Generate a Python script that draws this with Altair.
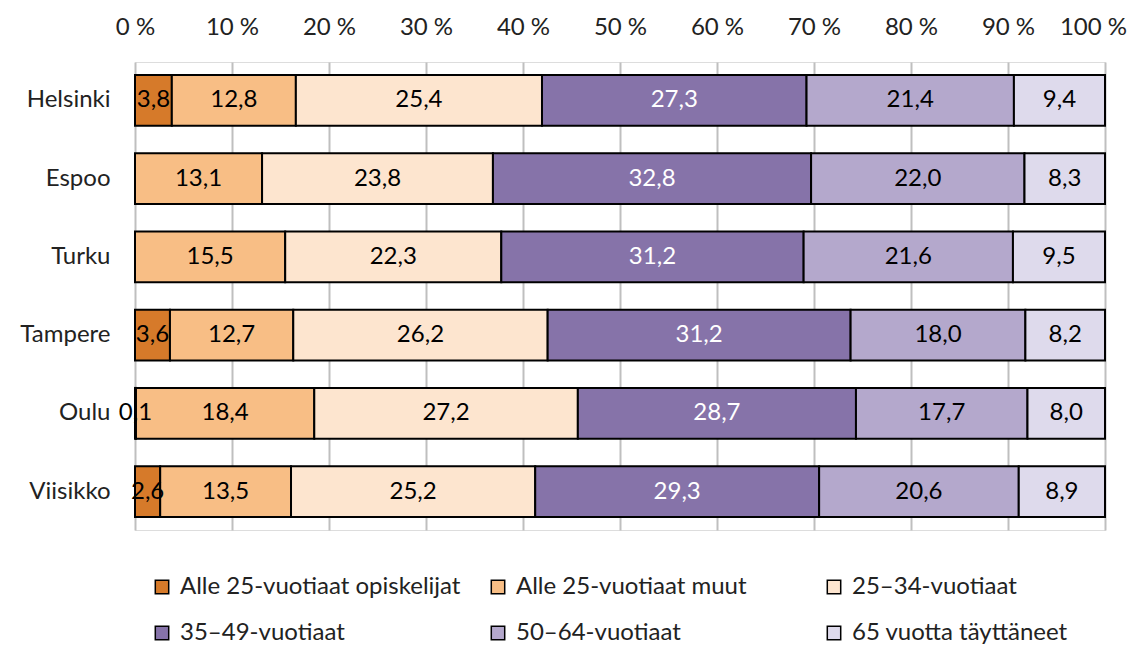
import altair as alt
import pandas as pd

cities = ["Helsinki", "Espoo", "Turku", "Tampere", "Oulu", "Viisikko"]
groups = ["Alle 25-vuotiaat opiskelijat", "Alle 25-vuotiaat muut", "25–34-vuotiaat",
          "35–49-vuotiaat", "50–64-vuotiaat", "65 vuotta täyttäneet"]
colors = ["#D67A2A", "#F8BE85", "#FDE5CF", "#8673A9", "#B4A8CC", "#DEDAEC"]
label_colors = ["black", "black", "black", "white", "black", "black"]

opiskelijat = [3.8, 0.0, 0.0, 3.6, 0.1, 2.6]
muut = [12.8, 13.1, 15.5, 12.7, 18.4, 13.5]
v25_34 = [25.4, 23.8, 22.3, 26.2, 27.2, 25.2]
v35_49 = [27.3, 32.8, 31.2, 31.2, 28.7, 29.3]
v50_64 = [21.4, 22.0, 21.6, 18.0, 17.7, 20.6]
v65 = [9.4, 8.3, 9.5, 8.2, 8.0, 8.9]

series = [opiskelijat, muut, v25_34, v35_49, v50_64, v65]
rows = []
for gi, (g, vals) in enumerate(zip(groups, series)):
    for c, v in zip(cities, vals):
        if v > 0:
            rows.append({"city": c, "group": g, "order": gi, "value": v,
                         "label": f"{v:.1f}".replace(".", ","),
                         "lc": label_colors[gi]})
df = pd.DataFrame(rows)

FONT = "Lato"
FS = 24
TXT = "#222222"

base = alt.Chart(df).transform_stack(
    stack="value", groupby=["city"], as_=["x0", "x1"],
    offset="normalize", sort=[alt.SortField("order", order="ascending")]
).transform_calculate(mid="(datum.x0 + datum.x1) / 2")

yenc = alt.Y("city:N", sort=cities, title=None,
             scale=alt.Scale(paddingInner=0.35, paddingOuter=0.166),
             axis=alt.Axis(ticks=False, domain=False, labelFontSize=FS, labelFont=FONT,
                           labelColor=TXT, labelPadding=25,
                           minExtent=122, maxExtent=122))

bars = base.mark_bar(stroke="black", strokeWidth=2).encode(
    x=alt.X("x0:Q", title=None, scale=alt.Scale(domain=[0, 1], nice=False),
            axis=alt.Axis(orient="top", values=[i / 10 for i in range(11)],
                          labelExpr="format(datum.value * 100, 'd') + ' %'",
                          labelFlush=False, labelOverlap=False,
                          labelOffset=alt.condition("datum.value >= 1", alt.value(-12), alt.value(0)),
                          ticks=False, domain=False, grid=True, gridColor="#BFBFBF",
                          gridWidth=2, labelFontSize=FS, labelFont=FONT,
                          labelColor=TXT, labelPadding=23,
                          minExtent=50, maxExtent=50)),
    x2="x1:Q",
    y=yenc,
    color=alt.Color("group:N", sort=groups,
                    scale=alt.Scale(domain=groups, range=colors),
                    legend=alt.Legend(title=None, orient="none", legendX=15, legendY=513,
                                      columns=3, direction="horizontal",
                                      gridAlign="all",
                                      symbolType="square",
                                      symbolSize=180, symbolStrokeColor="black",
                                      symbolStrokeWidth=1.5,
                                      labelFontSize=FS, labelFont=FONT,
                                      labelColor=TXT, labelLimit=400,
                                      symbolOffset=0, labelOffset=6,
                                      columnPadding=25, rowPadding=22)),
    order=alt.Order("order:Q"),
)

texts = base.mark_text(fontSize=FS, font=FONT, baseline="middle", align="center").encode(
    x=alt.X("mid:Q"),
    y=alt.Y("city:N", sort=cities),
    text="label:N",
    color=alt.Color("lc:N", scale=None),
)

chart = (bars + texts).properties(
    width=970, height=468,
    padding={"left": 5, "top": 4, "right": 0, "bottom": 5},
).configure_view(stroke=None).configure(background="white")

chart.save("out.html", embed_options={"renderer": "svg", "actions": False})
